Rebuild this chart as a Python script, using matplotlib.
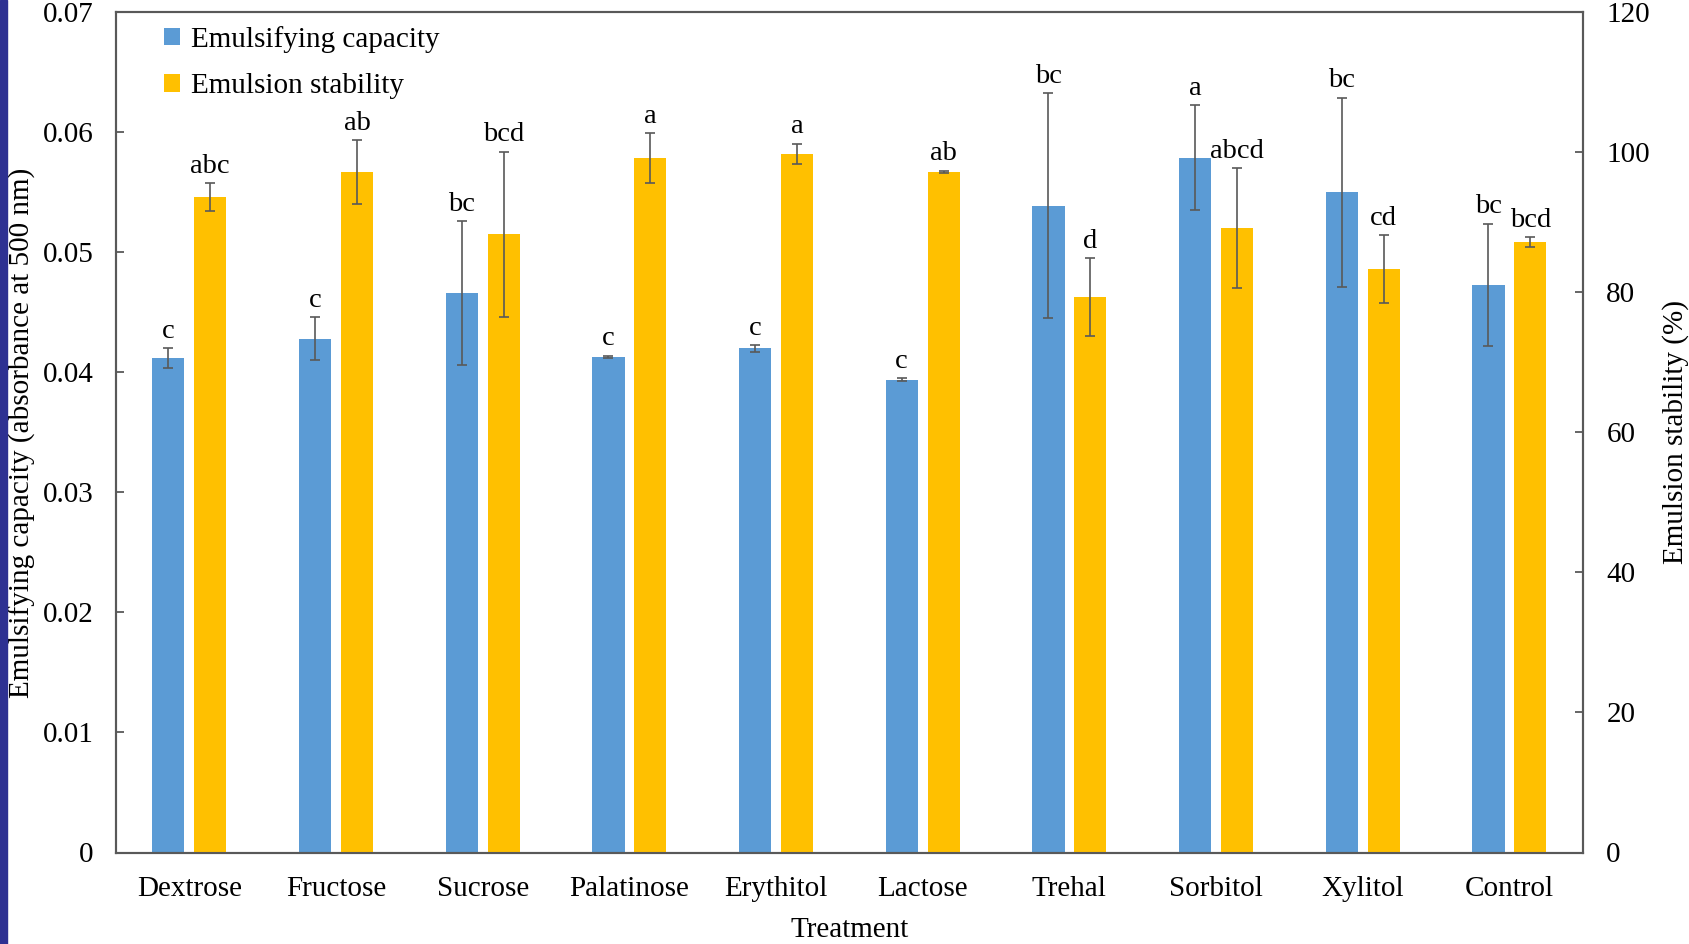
import matplotlib
matplotlib.use("Agg")
import matplotlib.pyplot as plt
from matplotlib.patches import Rectangle, Patch
import numpy as np

plt.rcParams['font.family'] = ['Liberation Serif', 'DejaVu Serif']

categories = ["Dextrose", "Fructose", "Sucrose", "Palatinose", "Erythitol",
              "Lactose", "Trehal", "Sorbitol", "Xylitol", "Control"]
capacity = [0.0412, 0.0428, 0.0466, 0.0413, 0.0420, 0.0394, 0.0539, 0.0579, 0.0550, 0.0473]
capacity_err = [0.0008, 0.0018, 0.0060, 0.0001, 0.0003, 0.0001, 0.0094, 0.0044, 0.0079, 0.0051]
stability = [93.6, 97.2, 88.3, 99.2, 99.8, 97.2, 79.3, 89.2, 83.3, 87.2]
stability_err = [2.05, 4.55, 11.8, 3.55, 1.45, 0.2, 5.6, 8.6, 4.85, 0.75]
capacity_letters = ["c", "c", "bc", "c", "c", "c", "bc", "a", "bc", "bc"]
stability_letters = ["abc", "ab", "bcd", "a", "a", "ab", "d", "abcd", "cd", "bcd"]

blue = "#5B9BD5"
orange = "#FFC000"
grey = "#595959"
fs = 21

fig = plt.figure(figsize=(16.89, 9.44), dpi=100)
fig.patches.append(Rectangle((0, 0), 7 / 1689, 1, transform=fig.transFigure,
                             color="#2E3192", zorder=0))
ax = fig.add_axes([116 / 1689, 1 - 852.5 / 944, (1582.7 - 116) / 1689, (852.5 - 12.3) / 944])
ax2 = ax.twinx()

x = np.arange(len(categories))
w = 0.22
off = 0.143
ax.bar(x - off, capacity, width=w, color=blue, zorder=2)
ax.errorbar(x - off, capacity, yerr=capacity_err, fmt="none", ecolor=grey,
            elinewidth=1.2, capsize=3.5, capthick=1.2, zorder=3)
ax2.bar(x + off, stability, width=w, color=orange, zorder=2)
ax2.errorbar(x + off, stability, yerr=stability_err, fmt="none", ecolor=grey,
             elinewidth=1.2, capsize=3.5, capthick=1.2, zorder=3)

for xi, v, e, t in zip(x, capacity, capacity_err, capacity_letters):
    ax.annotate(t, (xi - off, v + e), xytext=(0, 3), textcoords="offset points",
                ha="center", va="bottom", fontsize=20.5)
for xi, v, e, t in zip(x, stability, stability_err, stability_letters):
    ax2.annotate(t, (xi + off, v + e), xytext=(0, 3), textcoords="offset points",
                 ha="center", va="bottom", fontsize=20.5)

ax.set_xlim(-0.5, len(categories) - 0.5)
ax.set_ylim(0, 0.07)
ax2.set_ylim(0, 120)
ax.set_yticks(np.arange(0, 0.0701, 0.01))
ax.set_yticklabels(["0", "0.01", "0.02", "0.03", "0.04", "0.05", "0.06", "0.07"])
ax2.set_yticks(np.arange(0, 121, 20))
ax.set_xticks(x)
ax.set_xticklabels(categories)

for a in (ax, ax2):
    for s in a.spines.values():
        s.set_color(grey)
        s.set_linewidth(1.5)
ax.tick_params(axis="y", direction="in", length=6, width=1.3, color=grey,
               labelsize=fs, pad=16)
ax2.tick_params(axis="y", direction="in", length=6, width=1.3, color=grey,
                labelsize=fs, pad=17)
ax.tick_params(axis="x", length=0, labelsize=fs, pad=17)

ax.set_ylabel("Emulsifying capacity (absorbance at 500 nm)", fontsize=fs)
ax.yaxis.set_label_coords(-0.0545, 0.5)
ax2.set_ylabel("Emulsion stability (%)", fontsize=fs)
ax2.yaxis.set_label_coords(1.054, 0.5)
ax.set_xlabel("Treatment", fontsize=fs, labelpad=11)

handles = [Patch(facecolor=blue, label="Emulsifying capacity"),
           Patch(facecolor=orange, label="Emulsion stability")]
ax.legend(handles=handles, loc="upper left", bbox_to_anchor=(0.015, 1.015),
          frameon=False, fontsize=fs, handlelength=0.55, handleheight=0.55,
          handletextpad=0.35, labelspacing=0.7)

fig.savefig("out.png", dpi=100)
